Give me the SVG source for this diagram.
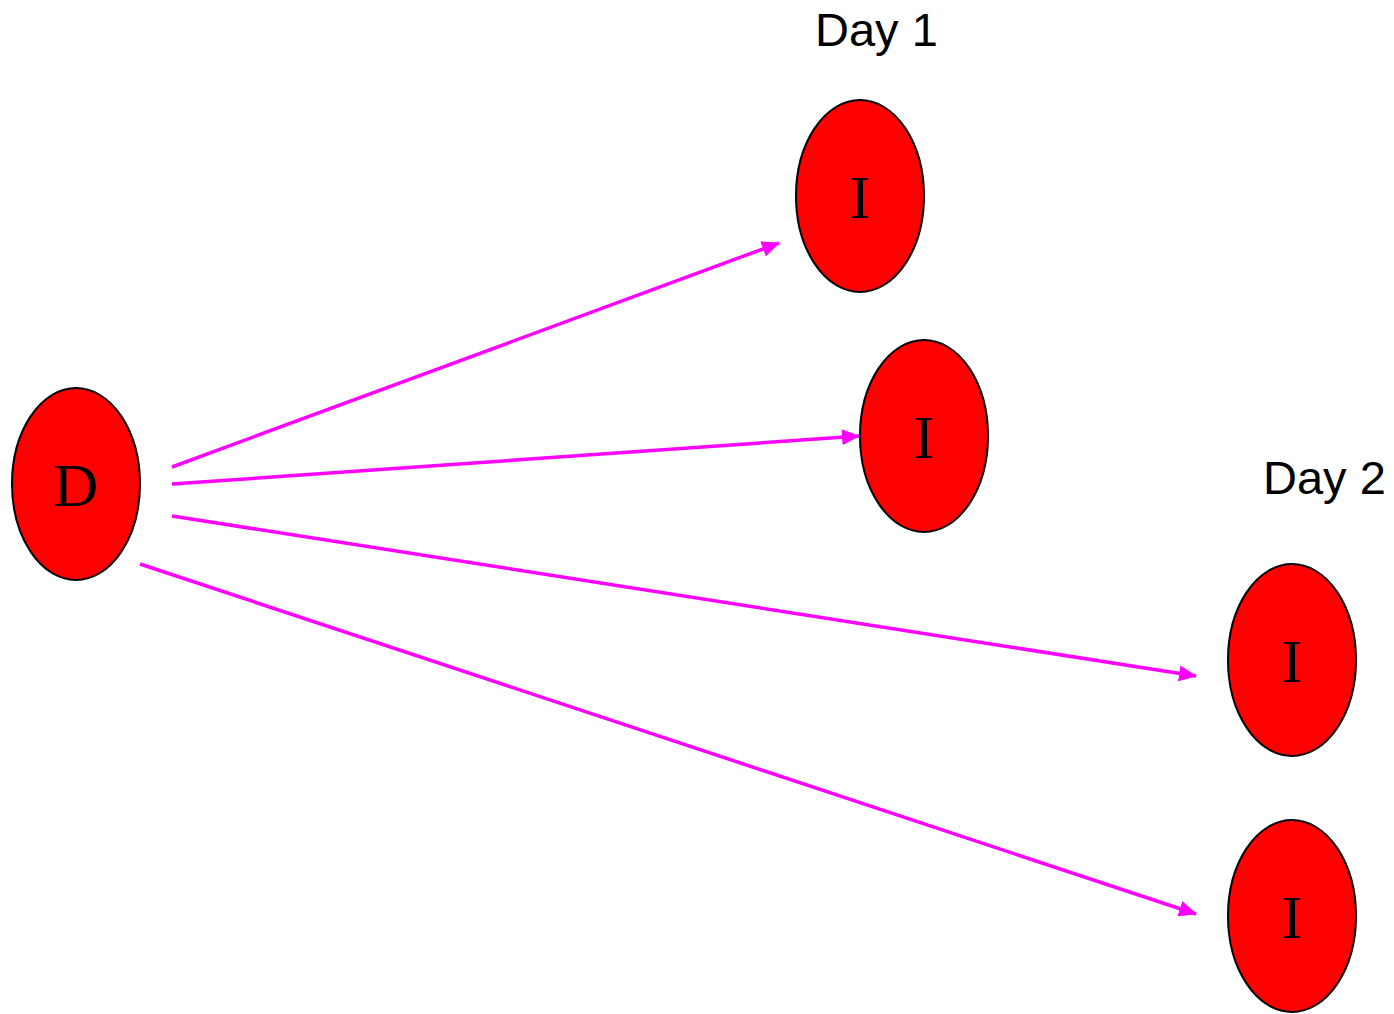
<svg xmlns="http://www.w3.org/2000/svg" width="1394" height="1014" viewBox="0 0 1394 1014">
<style>
.node ellipse{fill:#ff0000;stroke:#000;stroke-width:2}
.node text{font-family:"Liberation Serif",serif;font-size:62px;fill:#000;text-anchor:middle}
.lbl{font-family:"Liberation Sans",Arial,sans-serif;font-size:47px;fill:#000}
.conn line{stroke:#ff00ff;stroke-width:3.5;marker-end:url(#ah)}
</style>
<defs>
<marker id="ah" viewBox="0 0 18 16" markerWidth="18" markerHeight="16" refX="17" refY="8" orient="auto" markerUnits="userSpaceOnUse">
<path d="M0,0 L18,8 L0,16 z" fill="#ff00ff"/>
</marker>
</defs>
<rect width="1394" height="1014" fill="#fff"/>
<text class="lbl" x="815" y="46">Day 1</text>
<text class="lbl" x="1263" y="494">Day 2</text>
<g id="nD" class="node"><ellipse cx="76" cy="484" rx="64" ry="96"/><text x="76" y="506">D</text></g>
<g id="nI1" class="node"><ellipse cx="860" cy="196" rx="64" ry="96"/><text x="860" y="218">I</text></g>
<g id="nI2" class="node"><ellipse cx="924" cy="436" rx="64" ry="96"/><text x="924" y="458">I</text></g>
<g id="nI3" class="node"><ellipse cx="1292" cy="660" rx="64" ry="96"/><text x="1292" y="682">I</text></g>
<g id="nI4" class="node"><ellipse cx="1292" cy="916" rx="64" ry="96"/><text x="1292" y="938">I</text></g>
<g id="connectors" class="conn">
<line x1="172" y1="467" x2="779" y2="243"/>
<line x1="172" y1="484" x2="859" y2="436"/>
<line x1="172" y1="516" x2="1196" y2="676"/>
<line x1="140" y1="564" x2="1196" y2="914"/>
</g>
</svg>
